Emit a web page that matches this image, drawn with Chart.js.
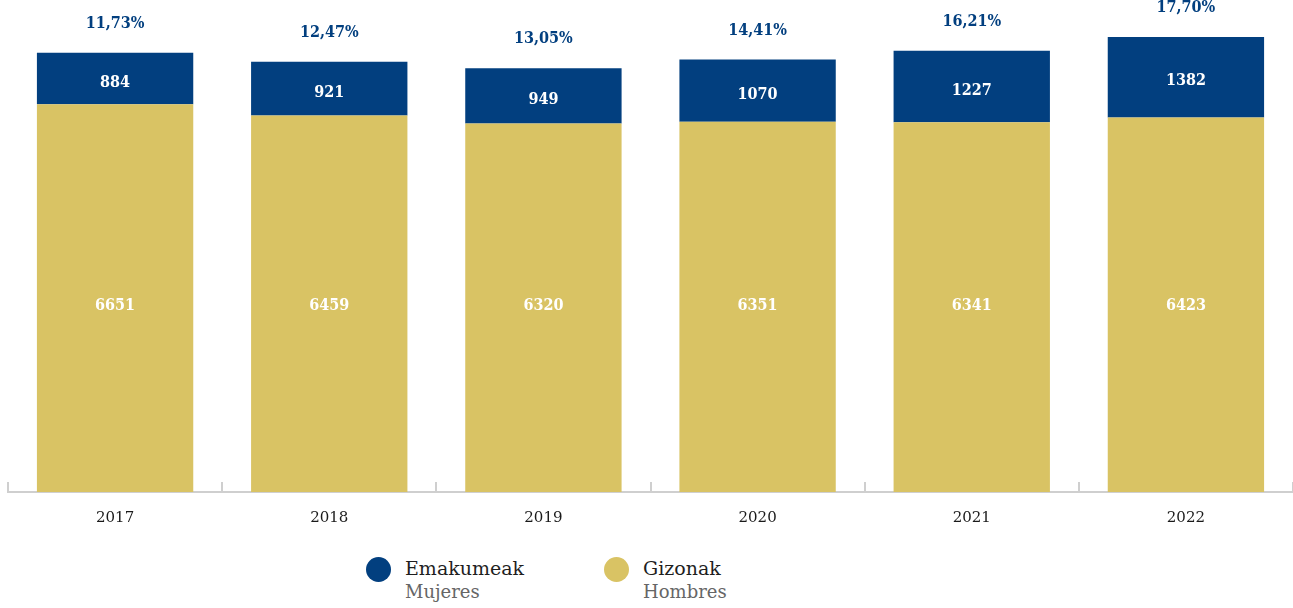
<!DOCTYPE html>
<html>
<head>
<meta charset="utf-8">
<script src="https://cdn.jsdelivr.net/npm/chart.js@4.4.0/dist/chart.umd.min.js"></script>
<style>
  body { margin: 0; background: #fff; }
  #wrap { position: relative; width: 1293px; height: 608px; }
  #chart { position: absolute; left: 0; top: 0; }
  .legend { position: absolute; top: 556px; left: 366px; display: flex; font-family: 'DejaVu Serif', serif; }
  .item { display: flex; align-items: flex-start; margin-right: 80px; }
  .dot { width: 25px; height: 25px; border-radius: 50%; margin-top: 1px; margin-right: 14px; }
  .main { font-size: 19px; color: #1e1e1e; line-height: 24px; }
  .sub { font-size: 18px; color: #666; line-height: 24px; }
</style>
</head>
<body>
<div id="wrap">
  <canvas id="chart" width="1293" height="536"></canvas>
  <div class="legend">
    <div class="item"><div class="dot" style="background:#023f7f"></div><div><div class="main">Emakumeak</div><div class="sub">Mujeres</div></div></div>
    <div class="item"><div class="dot" style="background:#d9c364"></div><div><div class="main">Gizonak</div><div class="sub">Hombres</div></div></div>
  </div>
</div>
<script>
// years on the x axis
const years = ['2017', '2018', '2019', '2020', '2021', '2022'];
// Emakumeak / Mujeres
const women = [884, 921, 949, 1070, 1227, 1382];
// Gizonak / Hombres
const men = [6651, 6459, 6320, 6351, 6341, 6423];
// share of women, as printed above each bar
const womenShare = ['11,73%', '12,47%', '13,05%', '14,41%', '16,21%', '17,70%'];

const blue = '#023f7f';
const gold = '#d9c364';
const boldFont = "bold 16px 'DejaVu Serif Condensed', 'DejaVu Serif', serif";

const totals = men.map((m, i) => m + women[i]);

// values inside bars and percentages on top
const barLabels = {
  id: 'barLabels',
  afterDatasetsDraw(chart) {
    const ctx = chart.ctx;
    const goldBars = chart.getDatasetMeta(0).data;
    // gold labels all sit on one line, near the centre of the shortest gold bar
    const goldLine = Math.max(...goldBars.map(b => (b.y + b.base) / 2)) - 2;
    ctx.save();
    ctx.font = boldFont;
    ctx.textAlign = 'center';
    ctx.textBaseline = 'middle';
    ctx.fillStyle = '#fff';
    goldBars.forEach((bar, i) => ctx.fillText(men[i], bar.x, goldLine));
    chart.getDatasetMeta(1).data.forEach((bar, i) => {
      ctx.fillStyle = '#fff';
      ctx.fillText(women[i], bar.x, (bar.y + bar.base) / 2 + 4);
      ctx.fillStyle = blue;
      ctx.fillText(womenShare[i], bar.x, bar.y - 29);
    });
    ctx.restore();
  }
};

// small upward tick marks between categories
const axisTicks = {
  id: 'axisTicks',
  afterDraw(chart) {
    const x = chart.scales.x;
    const ctx = chart.ctx;
    const step = x.getPixelForValue(1) - x.getPixelForValue(0);
    ctx.save();
    ctx.strokeStyle = '#cfcfcf';
    ctx.lineWidth = 2;
    for (let i = 0; i <= years.length; i++) {
      const px = Math.round(x.getPixelForValue(0) - step / 2 + i * step);
      ctx.beginPath();
      ctx.moveTo(px, x.top);
      ctx.lineTo(px, x.top - 10);
      ctx.stroke();
    }
    ctx.restore();
  }
};

new Chart(document.getElementById('chart'), {
  type: 'bar',
  data: {
    labels: years,
    datasets: [
      { label: 'Gizonak', data: men, backgroundColor: gold },
      { label: 'Emakumeak', data: women, backgroundColor: blue }
    ]
  },
  options: {
    responsive: false,
    animation: false,
    layout: { padding: { left: 8, right: 0, top: 37, bottom: 0 } },
    categoryPercentage: 1,
    barPercentage: 0.73,
    plugins: { legend: { display: false }, tooltip: { enabled: false } },
    scales: {
      x: {
        stacked: true,
        grid: { display: false },
        border: { color: '#cfcfcf', width: 2 },
        ticks: { color: '#1a1a1a', padding: 9, font: { family: "'DejaVu Serif', serif", size: 15 } }
      },
      y: {
        stacked: true,
        display: false,
        min: 0,
        max: Math.max(...totals)
      }
    }
  },
  plugins: [barLabels, axisTicks]
});
</script>
</body>
</html>
